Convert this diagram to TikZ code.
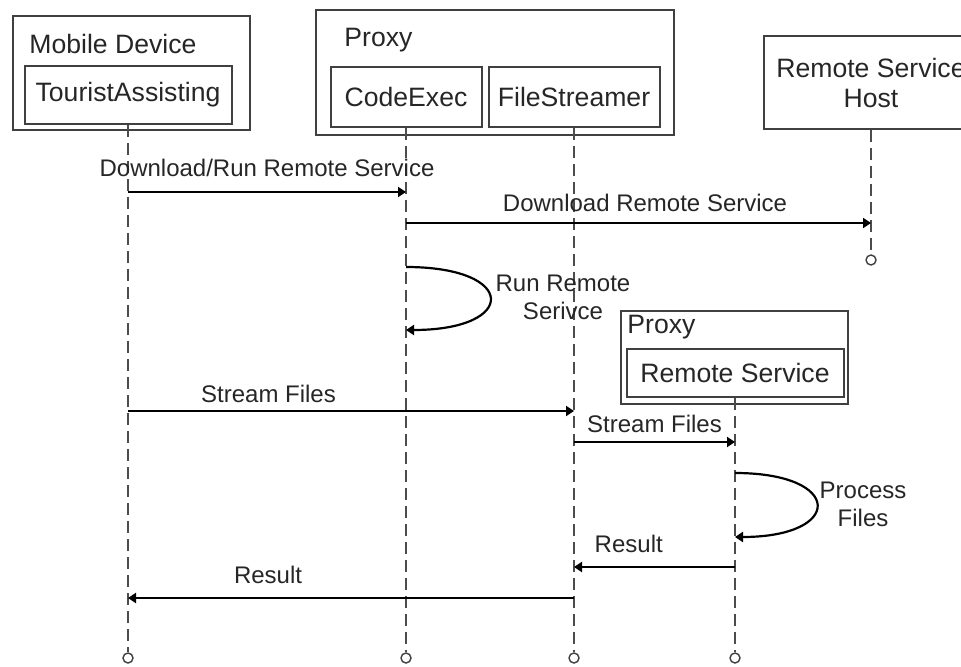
\documentclass[tikz,border=0pt]{standalone}
\usepackage{fontspec}
\setmainfont{Liberation Sans}
\usepackage{xcolor}
\usetikzlibrary{arrows.meta}

\begin{document}
\begin{tikzpicture}[
	x=0.5pt, y=-0.5pt,
	font=\fontsize{12}{14}\selectfont,
	text=black!85,
	frame/.style={
		draw=black!75,
		line width=1pt,
		inner sep=0pt
	},
	part/.style={
		frame,
		align=center,
		font=\fontsize{13.3}{15}\selectfont
	},
	title/.style={
		anchor=base west,
		inner sep=0pt,
		font=\fontsize{13.3}{15}\selectfont
	},
	lifeline/.style={
		draw=black!70,
		line width=0.7pt,
		dash pattern=on 6pt off 3pt
	},
	endpt/.style={
		circle,
		draw=black!75,
		fill=white,
		line width=0.7pt,
		inner sep=0pt,
		minimum size=5pt
	},
	msg/.style={
		-{Triangle[length=4pt,width=5pt]},
		line width=1.1pt
	},
	msglabel/.style={
		anchor=base,
		inner sep=0pt,
		yshift=6pt
	}
	]
	\useasboundingbox (0,0) rectangle (961,667);
	
	% Mobile device
	\node[frame, minimum width=118.5pt, minimum height=57pt] (mobile_box) at (131.5,73) {};
	\node[title] (mobile_title) at ([shift={(17,39)}]mobile_box.north west) {Mobile Device};
	\node[part, minimum width=103.5pt, minimum height=29pt] (tourist) at (128,95) {TouristAssisting};
	
	% Proxy
	\node[frame, minimum width=179pt, minimum height=62.5pt] (proxy_box) at (495,72.5) {};
	\node[title] (proxy_title) at ([shift={(29,38)}]proxy_box.north west) {Proxy};
	\node[part, minimum width=75.5pt, minimum height=30pt] (codeexec) at (406,97) {CodeExec};
	\node[part, minimum width=85.5pt, minimum height=30pt] (filestreamer) at (574,97) {FileStreamer};
	
	% Remote host
	\node[part, minimum width=107pt, minimum height=46.5pt] (host) at (871,82.5) {Remote Service\\Host};
	
	% Proxy running the remote service
	\node[frame, fill=white, minimum width=113.5pt, minimum height=46.5pt] (proxy2_box) at (734.5,357.5) {};
	\node[title] (proxy2_title) at ([shift={(7,24)}]proxy2_box.north west) {Proxy};
	\node[part, minimum width=108.5pt, minimum height=24pt] (remotesvc) at (735,373) {Remote Service};
	
	% Lifelines
	\coordinate (bottom) at (0,658);
	\node[endpt] (tourist_end) at (tourist.south |- bottom) {};
	\node[endpt] (codeexec_end) at (codeexec.south |- bottom) {};
	\node[endpt] (filestreamer_end) at (filestreamer.south |- bottom) {};
	\node[endpt] (remotesvc_end) at (remotesvc.south |- bottom) {};
	\node[endpt] (host_end) at (871,260) {};
	
	\draw[lifeline] (tourist.south) -- (tourist_end);
	\draw[lifeline] (codeexec.south) -- (codeexec_end);
	\draw[lifeline] (filestreamer.south) -- (filestreamer_end);
	\draw[lifeline] (remotesvc.south) -- (remotesvc_end);
	\draw[lifeline] (host.south) -- (host_end);
	
	% Message levels
	\coordinate (m_run) at (0,192);
	\coordinate (m_download) at (0,223);
	\coordinate (m_stream) at (0,411);
	\coordinate (m_stream2) at (0,442);
	\coordinate (m_result) at (0,567);
	\coordinate (m_result2) at (0,598);
	
	% Messages
	\draw[msg] (tourist_end |- m_run) -- node[msglabel, yshift=1.5pt] {Download/Run Remote Service} (codeexec_end |- m_run);
	\draw[msg] (codeexec_end |- m_download) -- node[msglabel, pos=0.514, yshift=-0.5pt] {Download Remote Service} (host_end |- m_download);
	
	\draw[msg] (codeexec_end |- 0,267) .. controls +(112,0) and +(112,0) .. (codeexec_end |- 0,330);
	\node[align=center] (run_label) at (563,297) {Run Remote\\Serivce};
	
	\draw[msg] (tourist_end |- m_stream) -- node[msglabel, pos=0.315, yshift=-1.5pt] {Stream Files} (filestreamer_end |- m_stream);
	\draw[msg] (filestreamer_end |- m_stream2) -- node[msglabel, yshift=-1pt] {Stream Files} (remotesvc_end |- m_stream2);
	
	\draw[msg] (remotesvc_end |- 0,473) .. controls +(109,0) and +(109,0) .. (remotesvc_end |- 0,537);
	\node[align=center] (process_label) at (863,504) {Process\\Files};
	
	\draw[msg] (remotesvc_end |- m_result) -- node[msglabel, pos=0.66, yshift=1.5pt] {Result} (filestreamer_end |- m_result);
	\draw[msg] (filestreamer_end |- m_result2) -- node[msglabel, pos=0.686, yshift=1.5pt] {Result} (tourist_end |- m_result2);
	
\end{tikzpicture}
\end{document}
